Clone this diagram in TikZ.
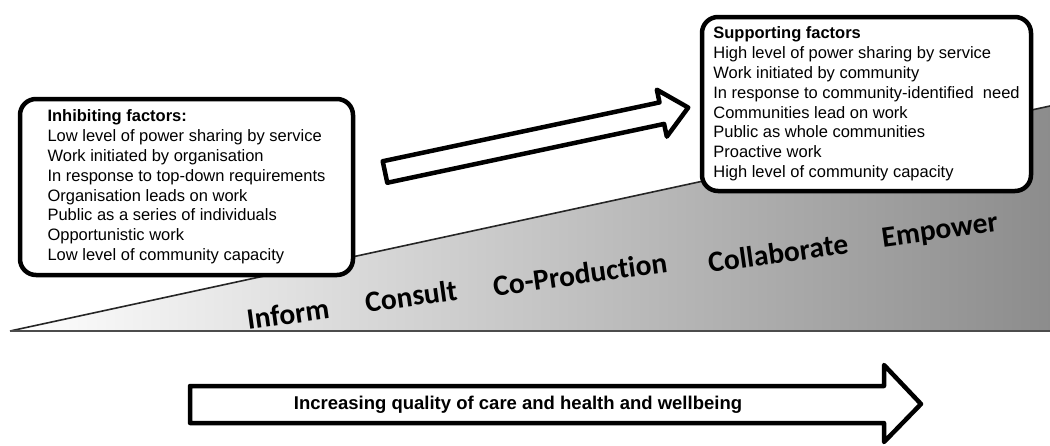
\documentclass[tikz,border=0pt]{standalone}
\usepackage{fontspec}
\setmainfont{Liberation Sans}
\newfontfamily\stagefont[Ligatures=NoCommon]{Carlito}

\begin{document}
\begin{tikzpicture}[
    x=1pt, y=-1pt,
    factorbox/.style={draw, line width=4.5pt, rounded corners=16pt, fill=white, align=left, inner sep=0pt, font=\fontsize{16.5}{19.8}\selectfont},
    stage/.style={font=\stagefont\bfseries\fontsize{29.5}{29.5}\selectfont, rotate=8, inner sep=0pt},
    blockarrow/.style={draw, line width=4.5pt, fill=white, line join=round},
    caption/.style={font=\bfseries\fontsize{18.5}{18.5}\selectfont, inner sep=0pt},
]
    \useasboundingbox (0,0) rectangle (1050,445);

    % ============= Wedge =============
    \coordinate (apex) at (10,331);
    \coordinate (peak) at (1050,106);
    \coordinate (floor) at (1050,331);
    \shade[left color=white, right color=black!45] (apex) -- (peak) -- (floor) -- cycle;
    \draw[line width=1.6pt, black!85] (apex) -- (peak);
    \draw[line width=2.5pt, black!70] (apex) -- (floor);

    % ============= Stages =============
    \node[stage] (inform) at (288,314) {Inform};
    \node[stage] (consult) at (411,296) {Consult};
    \node[stage] (coprod) at (580,274) {Co-Production};
    \node[stage] (collab) at (778,253) {Collaborate};
    \node[stage] (empower) at (940,232) {Empower};

    % ============= Factor boxes =============
    \node[factorbox, minimum width=333, minimum height=176] (inhibit) at (186.5,187) {%
        \textbf{Inhibiting factors:}\\
        Low level of power sharing by service\\
        Work initiated by organisation\\
        In response to top-down requirements\\
        Organisation leads on work\\
        Public as a series of individuals\\
        Opportunistic work\\
        Low level of community capacity};
    \node[factorbox, minimum width=329, minimum height=174] (support) at (866.5,104) {%
        \textbf{Supporting factors}\\
        High level of power sharing by service\\
        Work initiated by community\\
        In response to community-identified~ need\\
        Communities lead on work\\
        Public as whole communities\\
        Proactive work\\
        High level of community capacity};

    % ============= Arrows =============
    \draw[blockarrow, shift={(385,172)}, rotate=12]
        (0,-11) -- (283,-11) -- (283,-24) -- (310,0) -- (283,24) -- (283,11) -- (0,11) -- cycle;

    \draw[blockarrow] (190,386) -- (884,386) -- (884,365) -- (921,404) -- (884,442) -- (884,423) -- (190,423) -- cycle;
    \node[caption] (quality) at (518,405) {Increasing quality of care and health and wellbeing};
\end{tikzpicture}
\end{document}
